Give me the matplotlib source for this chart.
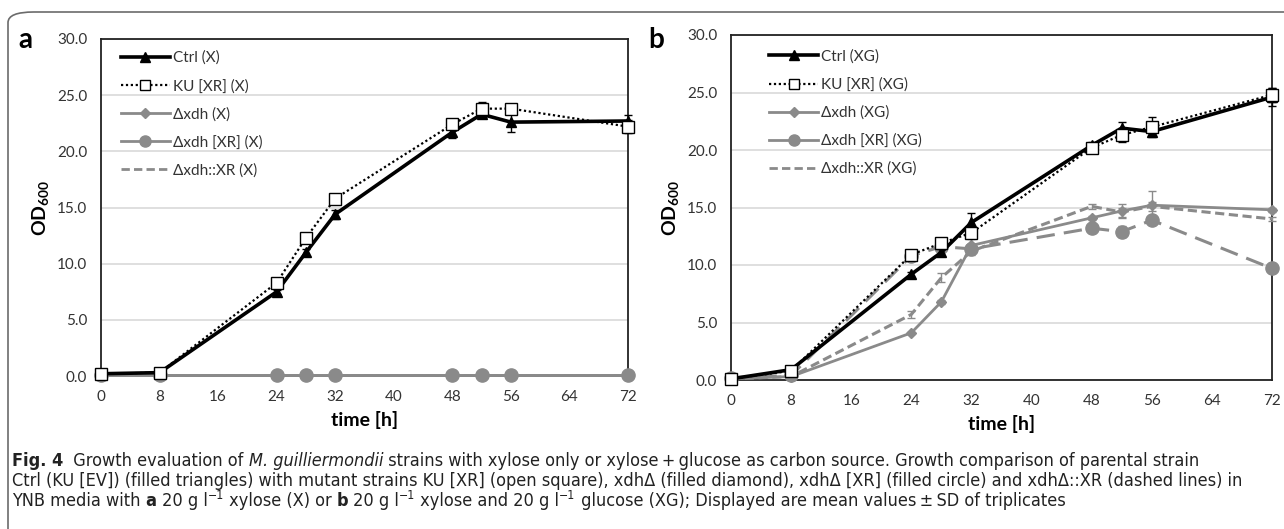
import matplotlib
matplotlib.use("Agg")
import matplotlib.pyplot as plt
from matplotlib.patches import FancyBboxPatch
from matplotlib.lines import Line2D
from matplotlib import font_manager as fm
from matplotlib.font_manager import FontProperties

# ---------------- data ----------------
time_h = [0, 8, 24, 28, 32, 48, 52, 56, 72]

# panel a (xylose)
ctrl_x = [0.2, 0.3, 7.5, 11.0, 14.4, 21.7, 23.3, 22.6, 22.7]
ctrl_x_sd = [0.0, 0.0, 0.2, 0.3, 0.4, 0.5, 0.3, 0.9, 0.5]
ku_x = [0.2, 0.3, 8.3, 12.3, 15.8, 22.4, 23.8, 23.8, 22.2]
ku_x_sd = [0.0, 0.0, 0.2, 0.2, 0.2, 0.2, 0.6, 0.2, 0.6]
dxdh_x = [0.1, 0.1, 0.1, 0.1, 0.1, 0.1, 0.1, 0.1, 0.1]
dxdh_xr_x = [0.1, 0.1, 0.1, 0.1, 0.1, 0.1, 0.1, 0.1, 0.1]
dxdh_int_x = [0.1, 0.1, 0.1, 0.1, 0.1, 0.1, 0.1, 0.1, 0.1]

# panel b (xylose + glucose)
ctrl_xg = [0.1, 0.9, 9.2, 11.1, 13.7, 20.4, 21.9, 21.6, 24.6]
ctrl_xg_sd = [0.0, 0.1, 0.2, 0.3, 0.8, 0.3, 0.5, 0.3, 0.8]
ku_xg = [0.1, 0.8, 10.9, 11.9, 12.8, 20.2, 21.3, 22.0, 24.8]
ku_xg_sd = [0.0, 0.1, 0.3, 0.2, 0.3, 0.3, 0.6, 0.9, 0.6]
dxdh_xg = [0.1, 0.3, 4.1, 6.8, 11.7, 14.1, 14.7, 15.2, 14.8]
dxdh_xg_sd = [0.0, 0.0, 0.1, 0.2, 0.6, 0.2, 0.6, 1.2, 0.2]
dxdh_xr_xg = [0.2, 0.4, 10.8, 11.6, 11.4, 13.2, 12.9, 13.9, 9.7]
dxdh_xr_xg_sd = [0.0, 0.0, 0.2, 0.2, 0.3, 0.2, 0.5, 0.2, 0.3]
dxdh_int_xg = [0.1, 0.3, 5.7, 8.9, 11.2, 15.1, 14.6, 15.1, 14.0]
dxdh_int_xg_sd = [0.0, 0.0, 0.3, 0.4, 0.3, 0.2, 0.4, 0.4, 0.2]

labels_a = ["Ctrl (X)", "KU [XR] (X)", "\u0394xdh (X)", "\u0394xdh [XR] (X)", "\u0394xdh::XR (X)"]
labels_b = ["Ctrl (XG)", "KU [XR] (XG)", "\u0394xdh (XG)", "\u0394xdh [XR] (XG)", "\u0394xdh::XR (XG)"]
xticks = [0, 8, 16, 24, 32, 40, 48, 56, 64, 72]
yticks = [0, 5, 10, 15, 20, 25, 30]

# caption as runs of (text, style)
caption_runs = [
    [("Fig. 4", "b"), ("  Growth evaluation of ", "n"), ("M. guilliermondii", "i"),
     (" strains with xylose only or xylose\u2009+\u2009glucose as carbon source. Growth comparison of parental strain", "n")],
    [("Ctrl (KU [EV]) (filled triangles) with mutant strains KU [XR] (open square), xdh\u0394 (filled diamond), "
      "xdh\u0394 [XR] (filled circle) and xdh\u0394::XR (dashed lines) in", "n")],
    [("YNB media with ", "n"), ("a", "b"), (" 20 g l", "n"), ("\u22121", "s"), (" xylose (X) or ", "n"),
     ("b", "b"), (" 20 g l", "n"), ("\u22121", "s"), (" xylose and 20 g l", "n"), ("\u22121", "s"),
     (" glucose (XG); Displayed are mean values\u2009\u00b1\u2009SD of triplicates", "n")],
]

# ---------------- fonts ----------------
plt.rcParams["font.family"] = ["Lato", "DejaVu Sans"]
plt.rcParams["mathtext.fontset"] = "custom"
plt.rcParams["mathtext.rm"] = "Lato"
plt.rcParams["mathtext.bf"] = "Lato:bold"
plt.rcParams["mathtext.it"] = "Lato:italic"

names_cond = {}
for f in fm.fontManager.ttflist:
    if "condensed" in str(f.stretch) or "Narrow" in f.name:
        names_cond.setdefault(f.name, []).append(f)
cap_family, cap_stretch = "Roboto", "normal"
for fam in ["Liberation Sans Narrow", "Open Sans", "Noto Sans", "DejaVu Sans", "Roboto"]:
    ents = names_cond.get(fam, [])
    if any(e.weight in (400, "normal", "regular") and e.style == "normal" for e in ents):
        cap_family, cap_stretch = fam, ("normal" if "Narrow" in fam else "condensed")
        break


def cap_fp(style, size):
    kw = dict(family=[cap_family, "DejaVu Sans"], stretch=cap_stretch, size=size)
    if style == "b":
        kw["weight"] = "bold"
    if style == "i":
        kw["style"] = "italic"
    if style == "s":
        kw["size"] = size * 0.68
    return FontProperties(**kw)


GRAY = "#8a8a8a"
W, H = 1284, 529
fig = plt.figure(figsize=(W / 100, H / 100), dpi=100)
renderer = fig.canvas.get_renderer()


def fx(px):
    return px / W


def fy(py):
    return 1 - py / H


def make_axes(l, t, r, b):
    return fig.add_axes([fx(l), fy(b), fx(r) - fx(l), fy(t) - fy(b)])


def style_axes(ax):
    ax.set_xlim(0, 72)
    ax.set_ylim(0, 30)
    ax.set_xticks(xticks)
    ax.set_yticks(yticks)
    ax.set_yticklabels([f"{v:.1f}" for v in yticks])
    ax.tick_params(length=0, labelsize=11, colors="#333333")
    ax.tick_params(axis="x", pad=10)
    ax.tick_params(axis="y", pad=10)
    for s in ax.spines.values():
        s.set_color("#222222")
        s.set_linewidth(1.3)
    ax.grid(axis="y", color="#d9d9d9", linewidth=1.2)
    ax.set_axisbelow(True)
    ax.set_xlabel("time [h]", fontsize=14, fontweight="bold", labelpad=5)
    ax.set_ylabel(r"OD$_{\mathbf{600}}$", fontsize=14, fontweight="bold", labelpad=4)


def plot_series(ax, y, sd, label, **kw):
    return ax.errorbar(time_h, y, yerr=sd, label=label, capsize=3, elinewidth=1,
                       capthick=1, clip_on=False, **kw)


# frame
frame = FancyBboxPatch((fx(8), fy(560)), fx(1320) - fx(8), fy(12) - fy(560),
                       boxstyle="round,pad=0,rounding_size=0.02",
                       transform=fig.transFigure, fill=False,
                       edgecolor="#6b6b6b", linewidth=1.2)
fig.patches.append(frame)

zero = [0] * len(time_h)

# ---------------- panel a ----------------
axa = make_axes(101, 39, 628, 376)
style_axes(axa)
plot_series(axa, ctrl_x, ctrl_x_sd, labels_a[0], color="black", lw=2.6,
            marker="^", ms=7.5, zorder=6)
plot_series(axa, ku_x, ku_x_sd, labels_a[1], color="black", lw=1.6, ls=(0, (1, 1.2)),
            marker="s", ms=8, mfc="white", mec="black", mew=1, zorder=7)
plot_series(axa, dxdh_x, zero, labels_a[2], color=GRAY, lw=2, marker="D", ms=5, zorder=4)
plot_series(axa, dxdh_xr_x, zero, labels_a[3], color=GRAY, lw=2, marker="o", ms=9.5, zorder=5)
plot_series(axa, dxdh_int_x, zero, labels_a[4], color=GRAY, lw=2, ls=(0, (3, 1.5)), zorder=4)

# ---------------- panel b ----------------
axb = make_axes(731, 35, 1272, 380)
style_axes(axb)
plot_series(axb, ctrl_xg, ctrl_xg_sd, labels_b[0], color="black", lw=2.6,
            marker="^", ms=7.5, zorder=6)
plot_series(axb, ku_xg, ku_xg_sd, labels_b[1], color="black", lw=1.6, ls=(0, (1, 1.2)),
            marker="s", ms=8, mfc="white", mec="black", mew=1, zorder=7)
plot_series(axb, dxdh_xg, dxdh_xg_sd, labels_b[2], color=GRAY, lw=2, marker="D", ms=5, zorder=4)
plot_series(axb, dxdh_xr_xg, dxdh_xr_xg_sd, labels_b[3], color=GRAY, lw=2.2,
            ls=(0, (6, 3)), marker="o", ms=9.5, zorder=5)
plot_series(axb, dxdh_int_xg, dxdh_int_xg_sd, labels_b[4], color=GRAY, lw=2.2,
            ls=(0, (3, 1.5)), zorder=4)


def legend_handles():
    return [
        Line2D([], [], color="black", lw=2.6, marker="^", ms=7),
        Line2D([], [], color="black", lw=1.6, ls=(0, (1, 1.2)), marker="s", ms=7,
               mfc="white", mec="black", mew=1),
        Line2D([], [], color=GRAY, lw=2, marker="D", ms=5),
        Line2D([], [], color=GRAY, lw=2, marker="o", ms=8),
        Line2D([], [], color=GRAY, lw=2, ls=(0, (3, 1.5))),
    ]


axa.legend(legend_handles(), labels_a, loc="upper left", bbox_to_anchor=(0.038, 0.965),
           frameon=False, fontsize=11, handlelength=3.2, handletextpad=0.2,
           labelspacing=0.9, borderpad=0.0, borderaxespad=0, labelcolor="#333333")
axb.legend(legend_handles(), labels_b, loc="upper left", bbox_to_anchor=(0.071, 0.958),
           frameon=False, fontsize=11, handlelength=3.2, handletextpad=0.2,
           labelspacing=0.9, borderpad=0.0, borderaxespad=0, labelcolor="#333333")

# panel letters
fig.text(fx(18), fy(40), "a", fontsize=20, fontweight="bold", va="center", ha="left")
fig.text(fx(648), fy(40), "b", fontsize=20, fontweight="bold", va="center", ha="left")


# ---------------- caption (runs laid out left to right) ----------------
def run_width(txt, fp):
    w1, _, _ = renderer.get_text_width_height_descent(txt + "|", fp, ismath=False)
    w2, _, _ = renderer.get_text_width_height_descent("|", fp, ismath=False)
    return w1 - w2


base = 11.0
w_line2 = sum(run_width(t, cap_fp(s, base)) for t, s in caption_runs[1])
cap_size = base * 1263.0 / w_line2
cap_size = min(cap_size, 13.0)

cap_baselines = [466, 486, 506]
for runs, yb in zip(caption_runs, cap_baselines):
    x = 12.0
    for txt, st in runs:
        fp = cap_fp(st, cap_size)
        dy = cap_size * 0.55 if st == "s" else 0
        fig.text(fx(x), fy(yb - dy), txt, fontproperties=fp, va="baseline", ha="left",
                 color="#222222")
        x += run_width(txt, fp)

fig.savefig("out.png", dpi=100)
